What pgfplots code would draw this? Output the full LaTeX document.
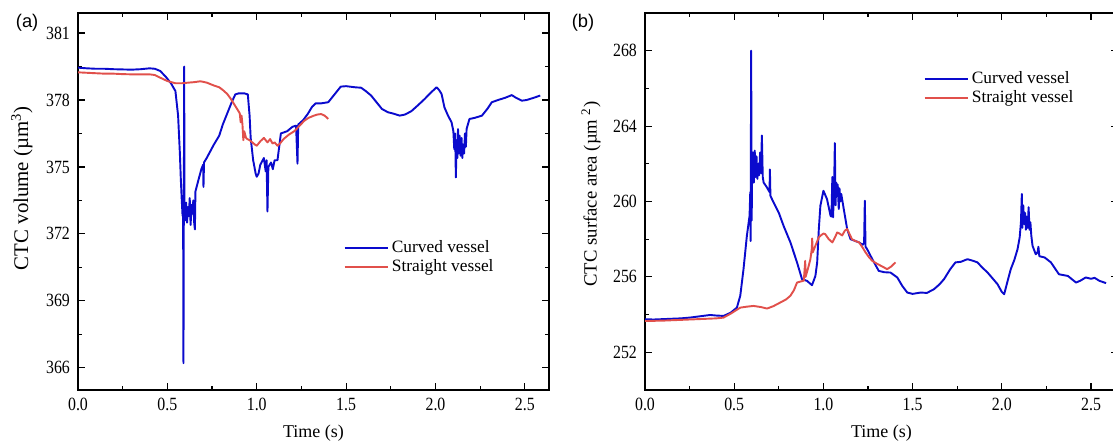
\documentclass[border=0pt]{standalone}
\usepackage{fontspec}
\setmainfont{Liberation Serif}
\newfontfamily\sansfont{Liberation Sans}
\usepackage{pgfplots}
\pgfplotsset{compat=1.18}
\definecolor{cblue}{RGB}{10,10,205}
\definecolor{cred}{RGB}{225,80,75}
\pgfplotsset{
  panel/.style={
    scale only axis, height=226.2pt, anchor=south west,
    xmin=0, xtick={0,0.5,1,1.5,2,2.5}, minor x tick num=1, minor y tick num=1,
    tick align=inside, major tick length=4pt, minor tick length=2.4pt,
    /pgf/number format/assume math mode=true,
    tick label style={font=\fontsize{11.2}{12}\selectfont, xscale=0.85},
    yticklabel style={xshift=-2.2pt},
    xticklabel style={yshift=-1.5pt, /pgf/number format/.cd, fixed, fixed zerofill, precision=1},
    label style={font=\fontsize{10.8}{12}\selectfont},
    axis line style={line width=0.8pt},
    every tick/.style={black, line width=0.7pt},
    clip mode=individual,
    legend style={draw=none, fill=none, font=\fontsize{10.4}{12}\selectfont, row sep=-1.3pt, inner sep=1pt},
    legend cell align=left,
    legend image code/.code={\draw[##1,line width=1.1pt] (0pt,0pt) -- (25.8pt,0pt);},
    xlabel={Time (s)},
    xlabel style={at={(axis description cs:0.5,0)}, anchor=center, yshift=-25.8pt},
  },
  blueline/.style={color=cblue, line width=1.15pt, line join=round},
  redline/.style={color=cred, line width=1.15pt, line join=round},
}
\begin{document}
\begin{tikzpicture}
\begin{axis}[panel, at={(46.8pt,34.2pt)}, width=282.6pt, xmax=2.635,
  ymin=365, ymax=381.9, ytick={366,369,372,375,378,381},
  ylabel={CTC volume (µm\textsuperscript{3})},
  ylabel style={at={(axis description cs:-0.119,0.535)}, anchor=center, font=\fontsize{12.5}{13}\selectfont},
  legend style={at={(axis description cs:0.56,0.351)}, anchor=west}]
\addplot[blueline] coordinates {
(0.00,379.45) (0.05,379.42) (0.10,379.40) (0.15,379.40) (0.20,379.38) (0.25,379.37)
(0.30,379.36) (0.35,379.38) (0.40,379.42) (0.43,379.40) (0.46,379.30) (0.49,379.05)
(0.52,378.75) (0.545,378.4) (0.56,377.3) (0.57,375.6) (0.575,374.5) (0.58,373.6)
(0.585,372.8) (0.588,373.4) (0.59,366.2) (0.592,372.9) (0.594,379.5) (0.596,373.0)
(0.60,372.6) (0.605,373.4) (0.61,372.5) (0.615,373.2) (0.62,372.8) (0.625,373.6)
(0.63,372.4) (0.635,373.3) (0.64,372.9) (0.645,373.5) (0.65,372.5) (0.654,372.2)
(0.657,373.9) (0.67,374.3) (0.69,374.9) (0.70,375.1) (0.702,374.1) (0.705,375.2)
(0.72,375.4) (0.74,375.7) (0.76,376.0) (0.79,376.4) (0.81,376.9) (0.835,377.4)
(0.86,377.9) (0.88,378.25) (0.90,378.3) (0.93,378.3) (0.95,378.25) (0.96,377.3)
(0.966,376.3) (0.98,375.3) (0.994,374.7) (1.00,374.56) (1.01,374.7) (1.02,375.1)
(1.04,375.4) (1.05,374.8) (1.055,375.3) (1.06,373.0) (1.065,375.0) (1.08,375.2)
(1.09,374.9) (1.10,375.3) (1.116,375.3) (1.135,376.5) (1.17,376.6) (1.20,376.8)
(1.22,376.85) (1.228,375.15) (1.232,376.9) (1.26,377.1) (1.285,377.37) (1.31,377.7)
(1.33,377.85) (1.36,377.85) (1.40,377.9) (1.43,378.2) (1.47,378.6) (1.50,378.62)
(1.55,378.57) (1.584,378.55) (1.61,378.4) (1.64,378.2) (1.678,377.82) (1.70,377.6)
(1.734,377.45) (1.76,377.4) (1.80,377.3) (1.83,377.35) (1.865,377.5) (1.90,377.75)
(1.94,378.05) (1.97,378.3) (2.006,378.57) (2.02,378.45) (2.034,378.27) (2.05,377.67)
(2.07,377.3) (2.09,377.0) (2.10,376.6) (2.105,375.8) (2.11,376.5) (2.114,374.53)
(2.118,376.2) (2.122,375.4) (2.126,376.7) (2.13,375.6) (2.135,376.4) (2.14,375.5)
(2.146,376.3) (2.15,375.4) (2.155,376.0) (2.16,375.6) (2.165,376.5) (2.17,375.9)
(2.174,376.7) (2.19,377.15) (2.22,377.2) (2.26,377.3) (2.29,377.6) (2.315,377.9)
(2.35,378.0) (2.39,378.1) (2.427,378.22) (2.45,378.1) (2.483,377.97) (2.51,378.0)
(2.55,378.1) (2.586,378.2)
};
\addlegendentry{Curved vessel}
\addplot[redline] coordinates {
(0.00,379.24) (0.05,379.22) (0.10,379.2) (0.15,379.18) (0.20,379.18) (0.25,379.16)
(0.30,379.15) (0.35,379.15) (0.40,379.15) (0.43,379.12) (0.46,379.0) (0.50,378.85)
(0.545,378.75) (0.58,378.75) (0.62,378.78) (0.65,378.8) (0.685,378.84) (0.72,378.78)
(0.76,378.65) (0.79,378.57) (0.81,378.45) (0.835,378.27) (0.855,378.05) (0.873,377.82)
(0.89,377.6) (0.905,377.4) (0.91,377.0) (0.915,377.3) (0.92,376.9) (0.925,376.2)
(0.93,376.6) (0.94,376.3) (0.947,376.25) (0.96,376.2) (0.975,376.1) (0.99,376.0)
(1.00,375.95) (1.02,376.15) (1.04,376.3) (1.06,376.1) (1.075,376.25) (1.088,376.05)
(1.10,376.1) (1.116,375.95) (1.13,376.05) (1.15,376.25) (1.18,376.45) (1.21,376.6)
(1.24,376.85) (1.266,377.07) (1.29,377.2) (1.32,377.3) (1.34,377.35) (1.36,377.37)
(1.38,377.3) (1.40,377.15)
};
\addlegendentry{Straight vessel}
\node[font=\sansfont\fontsize{11}{12}\selectfont] at (axis description cs:-0.108,0.973) {(a)};
\end{axis}
\begin{axis}[panel, at={(387pt,34.2pt)}, width=283.8pt, xmax=2.651,
  ymin=250, ymax=270, ytick={252,256,260,264,268},
  ylabel={CTC surface area (µm \textsuperscript{2})},
  ylabel style={at={(axis description cs:-0.114,0.52)}, anchor=center, font=\fontsize{11.2}{12}\selectfont},
  legend style={at={(axis description cs:0.585,0.80)}, anchor=west}]
\addplot[blueline] coordinates {
(0.00,253.75) (0.05,253.74) (0.10,253.76) (0.15,253.78) (0.20,253.8) (0.25,253.84)
(0.30,253.9) (0.365,253.98) (0.40,253.95) (0.44,253.93) (0.48,254.1) (0.515,254.37)
(0.534,255.0) (0.552,256.4) (0.571,258.18) (0.586,259.24) (0.59,260.5) (0.592,257.9)
(0.595,268.0) (0.598,259.0) (0.60,261.5) (0.605,262.6) (0.61,261.0) (0.615,262.7)
(0.62,261.3) (0.625,262.4) (0.63,261.2) (0.635,262.0) (0.64,261.4) (0.645,262.6)
(0.65,261.5) (0.655,263.5) (0.66,261.3) (0.665,261.0) (0.68,260.8) (0.698,260.5)
(0.70,261.7) (0.703,260.3) (0.72,259.96) (0.75,259.4) (0.777,258.7) (0.815,257.83)
(0.852,256.77) (0.88,255.88) (0.908,255.79) (0.936,255.56) (0.955,256.05) (0.965,256.77)
(0.974,258.5) (0.983,259.78) (1.00,260.57) (1.02,260.13) (1.04,259.24) (1.045,259.2)
(1.05,261.3) (1.054,259.16) (1.06,260.8) (1.064,263.1) (1.068,259.8) (1.072,261.0)
(1.077,260.3) (1.08,260.9) (1.086,259.6) (1.09,260.7) (1.095,260.0) (1.10,260.4)
(1.114,259.6) (1.133,258.54) (1.152,258.0) (1.18,257.9) (1.20,257.83) (1.22,257.7)
(1.228,257.8) (1.232,260.04) (1.236,257.6) (1.245,257.47) (1.274,256.94) (1.31,256.32)
(1.34,256.25) (1.376,256.23) (1.414,255.97) (1.442,255.52) (1.47,255.17) (1.50,255.1)
(1.545,255.17) (1.58,255.15) (1.62,255.35) (1.65,255.6) (1.676,255.88) (1.71,256.4)
(1.74,256.77) (1.77,256.8) (1.807,256.94) (1.84,256.85) (1.863,256.77) (1.89,256.5)
(1.92,256.23) (1.95,255.9) (1.976,255.61) (2.0,255.2) (2.013,255.08) (2.03,255.7)
(2.05,256.41) (2.07,256.9) (2.088,257.47) (2.10,258.1) (2.107,258.9) (2.112,260.4)
(2.115,258.6) (2.12,259.8) (2.125,258.8) (2.13,259.4) (2.135,258.5) (2.14,259.2)
(2.145,258.6) (2.15,259.7) (2.155,258.5) (2.16,258.9) (2.165,258.2) (2.172,257.65)
(2.19,257.2) (2.2,257.3) (2.205,257.6) (2.21,257.1) (2.24,257.03) (2.275,256.77)
(2.32,256.14) (2.37,256.05) (2.416,255.7) (2.44,255.8) (2.47,255.97) (2.5,255.9)
(2.52,255.95) (2.547,255.79) (2.584,255.67)
};
\addlegendentry{Curved vessel}
\addplot[redline] coordinates {
(0.00,253.66) (0.05,253.67) (0.10,253.68) (0.15,253.7) (0.20,253.72) (0.25,253.74)
(0.30,253.76) (0.35,253.78) (0.40,253.8) (0.44,253.84) (0.48,254.05) (0.534,254.37)
(0.57,254.42) (0.608,254.46) (0.65,254.4) (0.684,254.32) (0.72,254.45) (0.758,254.64)
(0.79,254.8) (0.815,255.0) (0.835,255.3) (0.852,255.7) (0.87,255.75) (0.89,255.8)
(0.898,256.85) (0.90,256.0) (0.915,256.5) (0.927,256.94) (0.935,257.5) (0.937,258.04)
(0.94,257.3) (0.955,257.65) (0.974,258.1) (0.983,258.18) (1.00,258.3) (1.01,258.27)
(1.03,258.0) (1.05,257.83) (1.065,258.1) (1.077,258.36) (1.09,258.3) (1.105,258.2)
(1.12,258.45) (1.133,258.54) (1.145,258.3) (1.16,258.0) (1.18,257.9) (1.20,257.83)
(1.22,257.55) (1.236,257.3) (1.255,257.05) (1.274,256.85) (1.30,256.7) (1.32,256.6)
(1.34,256.5) (1.357,256.41) (1.38,256.55) (1.404,256.77)
};
\addlegendentry{Straight vessel}
\node[font=\sansfont\fontsize{11}{12}\selectfont] at (axis description cs:-0.131,0.973) {(b)};
\end{axis}
\pgfresetboundingbox
\useasboundingbox (0pt,0pt) rectangle (667.8pt,268.2pt);
\end{tikzpicture}
\end{document}
